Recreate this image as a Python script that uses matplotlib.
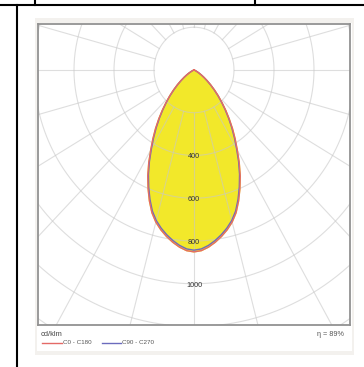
import numpy as np
import matplotlib.pyplot as plt
from matplotlib.patches import Rectangle

plt.rcParams['font.family'] = ['Liberation Sans', 'DejaVu Sans']

# luminous intensity (cd/klm) against gamma angle from nadir
gamma = [0, 2.5, 5, 7.5, 10, 12.5, 15, 17.5, 20, 22.5, 25, 27.5, 30, 32.5, 35, 37.5,
         40, 42.5, 45, 47.5, 50, 52.5, 55, 57.5, 60, 62.5, 65, 67.5, 70, 75, 80, 85, 90]
c0_c180 = [851, 846, 832, 813, 791, 766, 737, 700, 652, 600, 547, 490, 433, 383, 336, 290,
           247, 207, 172, 139, 110, 84, 62, 44, 29, 17, 9, 4, 1, 0, 0, 0, 0]
c90_c270 = [843, 838, 824, 805, 783, 758, 729, 692, 644, 592, 539, 483, 426, 376, 329, 284,
            242, 203, 168, 135, 106, 81, 59, 42, 27, 16, 8, 4, 1, 0, 0, 0, 0]

rings = [200, 400, 600, 800, 1000, 1200, 1400, 1600]
ring_labels = [400, 600, 800, 1000]
side_angles = ['105°', '90°', '75°', '60°', '45°']
side_y = [35, 70, 110, 155, 218]
bottom_angles = ['30°', '15°', '0°', '15°', '30°']
bottom_x = [48, 122, 193, 265, 337]
legend_names = ['C0 - C180', 'C90 - C270']
legend_colors = ['#e46a66', '#6b6bbd']
efficiency = 'η = 89%'

W, H = 364, 367
fig = plt.figure(figsize=(W / 100, H / 100), dpi=100)

# overlay in pixel coordinates for table lines and texts
bg = fig.add_axes([0, 0, 1, 1])
bg.set_xlim(0, W)
bg.set_ylim(H, 0)
bg.axis('off')
bg.plot([0, W], [5, 5], color='black', lw=1.5)
bg.plot([17, 17], [5, H], color='black', lw=1.5)
bg.plot([35, 35], [0, 5], color='black', lw=1.5)
bg.plot([255, 255], [0, 5], color='black', lw=1.5)
bg.add_patch(Rectangle((35, 18), 319, 337, facecolor='#f3f1ee', edgecolor='none'))
bg.add_patch(Rectangle((37, 23), 315, 328, facecolor='white', edgecolor='none'))

# polar diagram drawn in cartesian axes (cd units)
x0, x1, y0, y1 = 38, 350, 24, 325
ax = fig.add_axes([x0 / W, 1 - y1 / H, (x1 - x0) / W, (y1 - y0) / H])
ax.set_xlim(-780, 780)
ax.set_ylim(-1193, 215)
ax.set_xticks([])
ax.set_yticks([])
for s in ax.spines.values():
    s.set_color('#929292')
    s.set_linewidth(1.3)

g = np.radians(gamma)
full_g = np.concatenate([-g[::-1], g[1:]])
for vals, col, z in [(c0_c180, legend_colors[0], 5), (c90_c270, legend_colors[1], 4)]:
    v = np.array(vals, dtype=float)
    full_v = np.concatenate([v[::-1], v[1:]])
    xs = full_v * np.sin(full_g)
    ys = -full_v * np.cos(full_g)
    if z == 5:
        ax.fill(xs, ys, color='#f2e82a', zorder=1)
    ax.plot(xs, ys, color=col, lw=1.0, zorder=z)

t = np.linspace(0, 2 * np.pi, 400)
for r in rings:
    ax.plot(r * np.sin(t), r * np.cos(t), color='#c8c8c8', lw=0.8, alpha=0.6, zorder=2)
for a in range(0, 360, 15):
    ar = np.radians(a)
    ax.plot([200 * np.sin(ar), 2000 * np.sin(ar)], [-200 * np.cos(ar), -2000 * np.cos(ar)],
            color='#c8c8c8', lw=0.8, alpha=0.6, zorder=2)

for r in ring_labels:
    ax.text(0, -r - 6, str(r), ha='center', va='center', fontsize=5.2, color='#333333', zorder=6)

for lab, y in zip(side_angles, side_y):
    bg.text(41, y, lab, ha='left', va='center', fontsize=4.7, color='#555555')
    bg.text(347, y, lab, ha='right', va='center', fontsize=4.7, color='#555555')
for lab, x in zip(bottom_angles, bottom_x):
    bg.text(x, 318, lab, ha='center', va='center', fontsize=4.7, color='#555555')

bg.text(41, 335, 'cd/klm', ha='left', va='center', fontsize=5.4, color='#444444')
bg.plot([42, 62], [343, 343], color=legend_colors[0], lw=1.0)
bg.text(63, 343, legend_names[0], ha='left', va='center', fontsize=4.5, color='#555555')
bg.plot([102, 121], [343, 343], color=legend_colors[1], lw=1.0)
bg.text(122, 343, legend_names[1], ha='left', va='center', fontsize=4.5, color='#555555')
bg.text(344, 335, efficiency, ha='right', va='center', fontsize=5.2, color='#555555')

fig.savefig('out.png', dpi=100)
